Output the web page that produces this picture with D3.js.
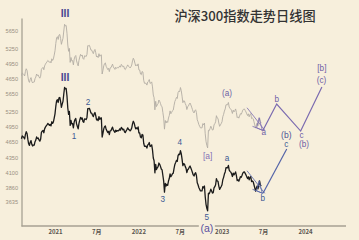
<!DOCTYPE html>
<html><head><meta charset="utf-8">
<script src="https://cdn.jsdelivr.net/npm/d3@7"></script>
<style>html,body{margin:0;padding:0;background:#f7efdc;} svg{display:block;}</style>
</head><body><svg id="c" width="359" height="240"></svg>
<script>
// ---------- data ----------
const titleText = "沪深300指数走势日线图";
const startDate = "2020-08-07";
const stepHours = 84; // half a week between readings
const closes = [
4707,4760,4747,4730,4703,4790,4843,4810,4698,4610,4580,4640,4671,4600,4570,4587,4587,4650,4681,4740,
4712,4720,4684,4660,4695,4830,4854,4870,4823,4900,4935,4960,4980,5010,4994,4970,4988,4960,5044,5010,
5042,5120,5211,5370,5496,5520,5458,5560,5570,5480,5351,5420,5484,5650,5807,5768,5779,5597,5336,5200,
5262,4970,5071,5000,5007,4920,5037,5090,5112,5000,4947,4900,5013,5080,5136,5100,5123,5050,5033,5106,
5100,5090,5135,5322,5321,5329,5282,5225,5225,5180,5151,5210,5240,5170,5082,5100,5068,5150,5094,5120,
5126,4740,4811,4900,4945,4960,4891,4860,4827,4850,4786,4860,4863,4900,4935,4880,4855,4830,4873,4850,
4866,4860,4870,4900,4874,4930,4909,4880,4895,4840,4826,4860,4888,4920,4890,4880,4859,4880,4916,5000,
5055,5020,4954,4900,4921,4900,4940,4820,4818,4740,4726,4790,4779,4620,4564,4564,4564,4530,4588,4600,
4634,4560,4571,4590,4497,4350,4302,4095,4240,4150,4180,4200,4262,4240,4204,4160,4145,4050,3959,3784,
3921,3880,3908,3890,3960,4000,4077,4030,4053,4080,4090,4170,4238,4270,4308,4290,4394,4420,4410,4485,
4428,4330,4216,4250,4245,4200,4170,4100,4146,4160,4191,4210,4178,4140,4100,4060,4043,4080,4096,4050,
3932,3900,3856,3830,3804,3804,3804,3870,3851,3880,3713,3600,3541,3505,3767,3760,3792,3830,3801,3770,
3775,3850,3870,3900,3998,3960,3954,3880,3828,3850,3872,3900,3981,4020,4074,4110,4181,4181,4181,4220,
4141,4120,4106,4080,4034,4090,4061,4080,4110,4050,3967,3980,3958,3990,4031,4020,4051,4090,4105,4110,
4085,4060,4028,4000,4029,3980,4020,4030,3951,3960,3949,3900,3850,3800,3848,3880,3836,3900,3963,3900,
3880];
const yTicksLower = [5650,5250,4950,4650,4350,4100,3860,3635];
const yTicksUpper = [5650,5250,4950,4650];
const xTickDates = ["2021-01-01","2021-07-01","2022-01-01","2022-07-01","2023-01-01","2023-07-01","2024-01-01"];
const xTickLabels = ["2021","7月","2022","7月","2023","7月","2024"];
// wedge drawn at the end of both panels
const wedgeUpper = [["2023-04-22",4130],["2023-07-09",3766]];
const wedgeLower = [["2023-05-16",3828],["2023-07-01",3766]];
const wedgeTri = [["2023-06-14",3965],["2023-06-03",3806],["2023-06-28",3766],["2023-06-14",3965]];
// projected paths
const projBlack = [["2023-07-01",3766],["2023-10-13",4513]];
const projGray = [["2023-07-01",3766],["2023-08-30",4193],["2023-12-13",3755],["2024-03-15",4495]];
// wave labels: text, date, value
const labelsBlack = [
 ["III","2021-02-14",6056],["1","2021-03-25",4742],["2","2021-05-26",5468],["3","2022-04-18",3666],
 ["4","2022-07-02",4644],["5","2022-10-28",3418],["(a)","2022-10-28",3274],["a","2023-01-24",4350],
 ["b","2023-06-30",3688],["c","2023-10-11",4604],["(b)","2023-10-11",4781]];
const labelsGray = [
 ["III","2021-02-14",6081],["[a]","2022-11-01",3390],["(a)","2023-01-24",4385],["a","2023-07-04",3726],
 ["b","2023-08-30",4264],["c","2023-12-17",3688],["(b)","2023-12-28",3555],["[b]","2024-03-15",4857],
 ["(c)","2024-03-13",4625]];

// ---------- drawing ----------
const parse = d3.timeParse("%Y-%m-%d");
const svg = d3.select("#c");
const W = 359, H = 240;
svg.append("rect").attr("width", W).attr("height", H).attr("fill", "#f7efdc");

const x = d3.scaleTime().domain([parse("2021-01-01"), parse("2024-01-01")]).range([55, 305]);
const yB = d3.scaleLog().domain([5650, 3635]).range([94, 202]);
const yG = d3.scaleLog().domain([5650, 3635]).range([31, 139]);

const t0 = parse(startDate);
const series = closes.map((v, i) => ({d: d3.timeHour.offset(t0, i * stepHours), v}));

// title
svg.append("text").attr("x", 245).attr("y", 20.5).attr("text-anchor", "middle")
  .attr("font-family", "'Noto Sans CJK SC', sans-serif").attr("font-size", 13.2).attr("font-weight", 500)
  .attr("fill", "#333").text(titleText);

// axes lines
const axisColor = "#a7a193";
svg.append("line").attr("x1", 22).attr("x2", 22).attr("y1", 18.5).attr("y2", 226.5)
  .attr("stroke", axisColor).attr("stroke-width", 1.3);
svg.append("line").attr("x1", 21.5).attr("x2", 346).attr("y1", 226).attr("y2", 226)
  .attr("stroke", axisColor).attr("stroke-width", 1.3);

function yAxis(scale, ticks) {
  const g = svg.append("g").attr("transform", "translate(22,0)")
    .call(d3.axisLeft(scale).tickValues(ticks).tickSize(0).tickPadding(4).tickFormat(d3.format("d")));
  g.select(".domain").remove();
  g.selectAll("text").attr("font-family", "'Liberation Sans', Arial, sans-serif")
    .attr("font-size", 5.6).attr("fill", "#9a8f81");
}
yAxis(yG, yTicksUpper);
yAxis(yB, yTicksLower);

const xg = svg.append("g").attr("transform", "translate(0,226)")
  .call(d3.axisBottom(x).tickValues(xTickDates.map(parse)).tickSize(0).tickPadding(4)
    .tickFormat((d, i) => xTickLabels[i]));
xg.select(".domain").remove();
xg.selectAll("text").attr("font-family", "'Noto Sans CJK SC', sans-serif")
  .attr("font-size", 6).attr("font-weight", 700).attr("fill", "#5a5550");

// series lines
const lineG = d3.line().x(d => x(d.d)).y(d => yG(d.v));
const lineB = d3.line().x(d => x(d.d)).y(d => yB(d.v));
svg.append("path").datum(series).attr("d", lineG).attr("fill", "none")
  .attr("stroke", "#b2ada4").attr("stroke-width", 0.9).attr("stroke-linejoin", "round");
svg.append("path").datum(series).attr("d", lineB).attr("fill", "none")
  .attr("stroke", "#1b1b1b").attr("stroke-width", 1.3).attr("stroke-linejoin", "round");

// annotations
function pts(arr) { return arr.map(p => ({d: parse(p[0]), v: p[1]})); }
function drawPath(arr, scale, color, w) {
  svg.append("path").datum(pts(arr))
    .attr("d", d3.line().x(d => x(d.d)).y(d => scale(d.v)))
    .attr("fill", "none").attr("stroke", color).attr("stroke-width", w).attr("stroke-linejoin", "miter");
}
const grayAnn = "#7b6bb0", blackAnn = "#5464a8";
[wedgeUpper, wedgeLower, wedgeTri].forEach(a => drawPath(a, yG, grayAnn, 0.8));
[wedgeUpper, wedgeLower, wedgeTri].forEach(a => drawPath(a, yB, blackAnn, 0.8));
drawPath(projGray, yG, grayAnn, 1.2);
drawPath(projBlack, yB, blackAnn, 1.2);

// labels
const font = "'Liberation Sans', Arial, sans-serif";
function styleFor(txt, panel) {
  if (txt === "III") return {size: 10.5, weight: 700, color: "#4d4792"};
  if (panel === "B") {
    if (txt === "(a)") return {size: 10.5, weight: 400, color: "#5a50a0"};
    if (txt === "(b)") return {size: 8.5, weight: 400, color: "#4c5296"};
    return {size: 8.2, weight: 400, color: "#3e5a94"};
  }
  if (txt === "[a]") return {size: 8.5, weight: 400, color: "#8473b6"};
  return {size: 8.2, weight: 400, color: "#6d5ea6"};
}
function drawLabels(list, scale, panel) {
  list.forEach(l => {
    const s = styleFor(l[0], panel);
    const cx = x(parse(l[1])), cy = scale(l[2]);
    if (panel === "B" && l[0] === "(a)") {
      svg.append("rect").attr("x", cx - 8).attr("y", cy - 5).attr("width", 16).attr("height", 10)
        .attr("fill", "#f7efdc");
    }
    svg.append("text").attr("x", cx).attr("y", cy).attr("text-anchor", "middle")
      .attr("dominant-baseline", "central").attr("font-family", font)
      .attr("font-size", s.size).attr("font-weight", s.weight).attr("fill", s.color).text(l[0]);
  });
}
drawLabels(labelsGray, yG, "G");
drawLabels(labelsBlack, yB, "B");
</script></body></html>
